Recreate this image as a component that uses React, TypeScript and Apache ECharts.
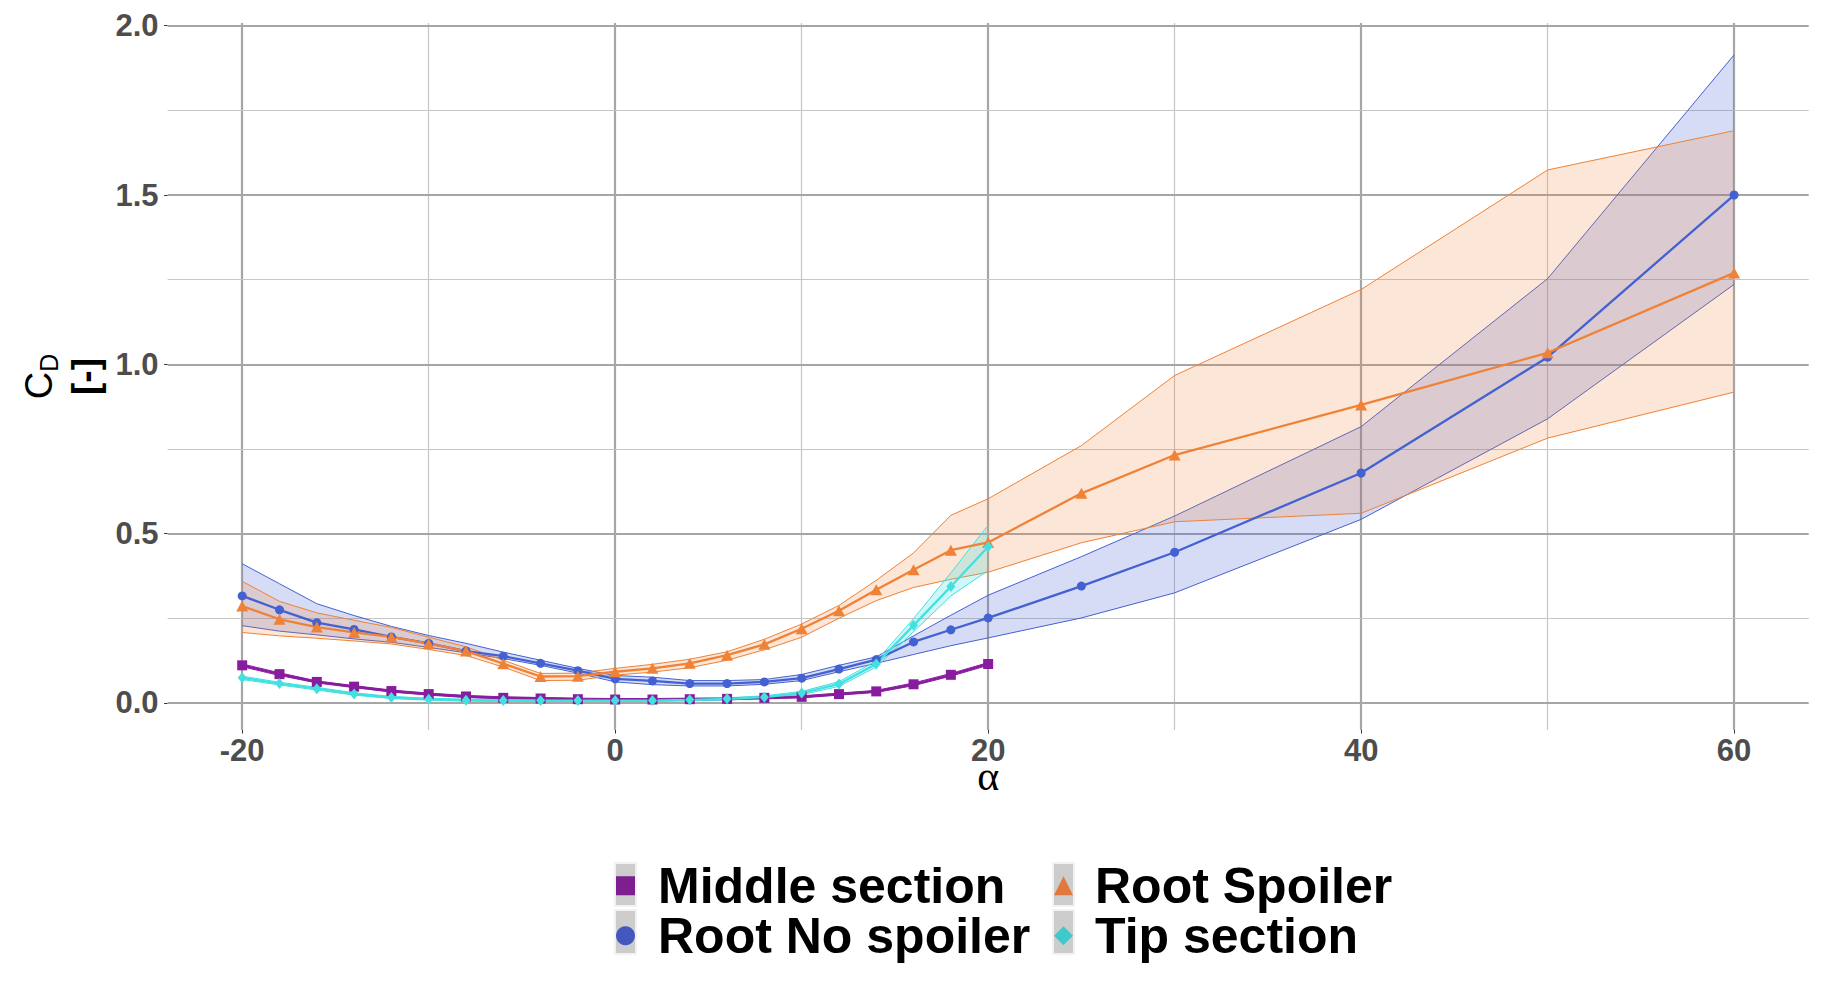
import React, { useEffect, useRef } from "react";
import * as echarts from "echarts";

// ---------- data ----------
const alphaShort = [-20, -18, -16, -14, -12, -10, -8, -6, -4, -2, 0, 2, 4, 6, 8, 10, 12, 14, 16, 18, 20];
const alphaLong = [-20, -18, -16, -14, -12, -10, -8, -6, -4, -2, 0, 2, 4, 6, 8, 10, 12, 14, 16, 18, 20, 25, 30, 40, 50, 60];

const middleMean = [0.111, 0.085, 0.062, 0.048, 0.035, 0.026, 0.019, 0.015, 0.013, 0.011, 0.010, 0.010, 0.011, 0.012, 0.015, 0.018, 0.026, 0.034, 0.055, 0.083, 0.115];
const middleLo = [0.107, 0.081, 0.059, 0.045, 0.032, 0.023, 0.016, 0.012, 0.010, 0.008, 0.007, 0.007, 0.008, 0.009, 0.012, 0.015, 0.023, 0.031, 0.051, 0.079, 0.111];
const middleHi = [0.115, 0.089, 0.065, 0.051, 0.038, 0.029, 0.022, 0.018, 0.016, 0.014, 0.013, 0.013, 0.014, 0.015, 0.018, 0.021, 0.029, 0.037, 0.059, 0.087, 0.119];

const tipMean = [0.074, 0.057, 0.042, 0.026, 0.016, 0.011, 0.008, 0.007, 0.007, 0.007, 0.007, 0.007, 0.009, 0.012, 0.017, 0.029, 0.056, 0.115, 0.229, 0.344, 0.461];
const tipLo = [0.069, 0.053, 0.038, 0.023, 0.013, 0.008, 0.005, 0.004, 0.004, 0.004, 0.004, 0.004, 0.006, 0.009, 0.013, 0.024, 0.049, 0.106, 0.210, 0.316, 0.391];
const tipHi = [0.079, 0.061, 0.046, 0.030, 0.019, 0.014, 0.011, 0.010, 0.010, 0.010, 0.010, 0.010, 0.012, 0.015, 0.021, 0.034, 0.063, 0.124, 0.249, 0.384, 0.525];

const noSpoilerMean = [0.316, 0.275, 0.237, 0.217, 0.195, 0.176, 0.153, 0.138, 0.117, 0.095, 0.071, 0.065, 0.057, 0.057, 0.062, 0.073, 0.100, 0.128, 0.180, 0.216, 0.251, 0.345, 0.445, 0.679, 1.021, 1.500];
const noSpoilerHi = [0.411, 0.352, 0.293, 0.258, 0.226, 0.199, 0.176, 0.150, 0.126, 0.102, 0.081, 0.076, 0.066, 0.066, 0.069, 0.084, 0.111, 0.136, 0.198, 0.259, 0.318, 0.432, 0.552, 0.816, 1.253, 1.914];
const noSpoilerLo = [0.228, 0.212, 0.201, 0.189, 0.179, 0.164, 0.148, 0.131, 0.111, 0.088, 0.062, 0.054, 0.050, 0.050, 0.055, 0.066, 0.092, 0.117, 0.143, 0.169, 0.192, 0.251, 0.325, 0.542, 0.839, 1.236];

const spoilerMean = [0.286, 0.247, 0.224, 0.208, 0.195, 0.175, 0.153, 0.116, 0.078, 0.079, 0.092, 0.102, 0.117, 0.141, 0.173, 0.219, 0.272, 0.334, 0.393, 0.451, 0.474, 0.619, 0.732, 0.880, 1.034, 1.270];
const spoilerHi = [0.359, 0.300, 0.266, 0.244, 0.223, 0.194, 0.166, 0.126, 0.087, 0.088, 0.102, 0.114, 0.129, 0.151, 0.188, 0.233, 0.288, 0.362, 0.443, 0.554, 0.603, 0.760, 0.967, 1.221, 1.574, 1.690];
const spoilerLo = [0.208, 0.198, 0.191, 0.183, 0.174, 0.158, 0.140, 0.106, 0.066, 0.067, 0.082, 0.091, 0.104, 0.126, 0.157, 0.194, 0.250, 0.302, 0.341, 0.365, 0.386, 0.473, 0.535, 0.560, 0.782, 0.918];

const xTicks = [-20, 0, 20, 40, 60];
const xMinor = [-10, 10, 30, 50];
const yTicks = [0, 0.5, 1.0, 1.5, 2.0];
const yMinor = [0.25, 0.75, 1.25, 1.75];

// ---------- styles ----------
const C_MID = "#881C9E";
const C_NOSP = "#4461D1";
const C_SP = "#EF8236";
const C_TIP = "#44E0E0";
const MAJOR = "#A6A6A6";
const MINOR = "#C6C6C6";
const SANS = "Liberation Sans, Arial, sans-serif";

function ribbon(name: string, xs: number[], lo: number[], hi: number[], color: string, fill: string) {
  return {
    type: "custom",
    name,
    silent: true,
    z: 2,
    data: [[xs[0], lo[0]]],
    renderItem: (params: any, api: any) => {
      const up = xs.map((x, i) => api.coord([x, hi[i]]));
      const dn = xs.map((x, i) => api.coord([x, lo[i]]));
      return {
        type: "group",
        children: [
          { type: "polygon", shape: { points: up.concat(dn.slice().reverse()) }, style: { fill, stroke: null } },
          { type: "polyline", shape: { points: up }, style: { stroke: color, lineWidth: 1, fill: null } },
          { type: "polyline", shape: { points: dn }, style: { stroke: color, lineWidth: 1, fill: null } },
        ],
      };
    },
  };
}

function meanLine(name: string, xs: number[], ys: number[], color: string, symbol: string, size: any) {
  return {
    type: "line",
    name,
    z: 2,
    data: xs.map((x, i) => [x, ys[i]]),
    symbol,
    symbolSize: size,
    showSymbol: true,
    lineStyle: { color, width: 2.3 },
    itemStyle: { color },
    emphasis: { disabled: true },
  };
}

const gridLines = [
  ...xTicks.map((v) => ({ xAxis: v, lineStyle: { color: MAJOR, width: 2.2, type: "solid" } })),
  ...xMinor.map((v) => ({ xAxis: v, lineStyle: { color: MINOR, width: 1.2, type: "solid" } })),
  ...yTicks.map((v) => ({ yAxis: v, lineStyle: { color: MAJOR, width: 2.2, type: "solid" } })),
  ...yMinor.map((v) => ({ yAxis: v, lineStyle: { color: MINOR, width: 1.2, type: "solid" } })),
];

const legendText = {
  color: "#000",
  fontFamily: SANS,
  fontWeight: "bold",
  fontSize: 50,
  lineHeight: 47.5,
};

const keyBoxes: any[] = [];
[614, 1052].forEach((x) => {
  keyBoxes.push({ type: "rect", silent: true, z: 0, shape: { x, y: 862, width: 23, height: 45 }, style: { fill: "#F2F2F2" } });
  keyBoxes.push({ type: "rect", silent: true, z: 0, shape: { x, y: 909, width: 23, height: 46 }, style: { fill: "#F2F2F2" } });
  keyBoxes.push({ type: "rect", silent: true, z: 1, shape: { x: x + 2, y: 864, width: 19, height: 41 }, style: { fill: "#CCCCCC" } });
  keyBoxes.push({ type: "rect", silent: true, z: 1, shape: { x: x + 2, y: 911, width: 19, height: 42 }, style: { fill: "#CCCCCC" } });
});

const option: any = {
  animation: false,
  backgroundColor: "#ffffff",
  grid: { left: 167.6, right: 16.3, top: 23, bottom: 253, containLabel: false, outerBoundsMode: "none" },
  xAxis: {
    type: "value",
    min: -24,
    max: 64,
    axisLine: { show: false, onZero: false },
    splitLine: { show: false },
    axisTick: { show: true, customValues: xTicks, length: 3.5, lineStyle: { color: "#333333", width: 1 } },
    axisLabel: {
      customValues: xTicks,
      margin: 5,
      fontSize: 31,
      fontWeight: "bold",
      fontFamily: SANS,
      color: "#4D4D4D",
      formatter: (v: number) => String(v),
    },
    name: "α",
    nameLocation: "middle",
    nameGap: 38,
    nameMoveOverlap: false,
    nameTextStyle: { fontFamily: "Liberation Serif, Times New Roman, serif", fontSize: 42, lineHeight: 16, color: "#000" },
  },
  yAxis: {
    type: "value",
    min: -0.08,
    max: 2.008,
    axisLine: { show: false, onZero: false },
    splitLine: { show: false },
    axisTick: { show: true, customValues: yTicks, length: 3.5, lineStyle: { color: "#333333", width: 1 } },
    axisLabel: {
      customValues: yTicks,
      margin: 9,
      fontSize: 31,
      fontWeight: "bold",
      fontFamily: SANS,
      color: "#4D4D4D",
      formatter: (v: number) => v.toFixed(1),
    },
    name: "{c|C}{d|D}\n{b|[-]}",
    nameLocation: "middle",
    nameRotate: 90,
    nameGap: 59,
    nameTextStyle: {
      color: "#000",
      rich: {
        c: { fontFamily: SANS, fontSize: 38, lineHeight: 45, color: "#000" },
        d: { fontFamily: SANS, fontSize: 25, lineHeight: 24, verticalAlign: "bottom", color: "#000" },
        b: { fontFamily: SANS, fontSize: 37, fontWeight: "bold", lineHeight: 47, color: "#000" },
      },
    },
  },
  legend: [
    {
      orient: "vertical",
      left: 616,
      top: 860.75,
      padding: 0,
      itemGap: 0,
      itemWidth: 19,
      itemHeight: 19,
      z: 10,
      selectedMode: false,
      itemStyle: { borderWidth: 0 },
      textStyle: { ...legendText, padding: [0, 0, 0, 18] },
      data: [
        { name: "Middle section", icon: "rect", itemStyle: { color: "#7D1F8E" } },
        { name: "Root No spoiler", icon: "circle", itemStyle: { color: "#4357BE" } },
      ],
    },
    {
      orient: "vertical",
      left: 1054,
      top: 860.75,
      padding: 0,
      itemGap: 0,
      itemWidth: 19,
      itemHeight: 19,
      z: 10,
      selectedMode: false,
      itemStyle: { borderWidth: 0 },
      textStyle: { ...legendText, padding: [0, 0, 0, 17] },
      data: [
        { name: "Root Spoiler", icon: "triangle", itemStyle: { color: "#E07A3C" } },
        { name: "Tip section", icon: "diamond", itemStyle: { color: "#3ECACA" } },
      ],
    },
  ],
  graphic: keyBoxes,
  series: [
    {
      type: "line",
      name: "grid",
      data: [],
      silent: true,
      markLine: {
        silent: true,
        z: 1,
        symbol: ["none", "none"],
        label: { show: false },
        emphasis: { disabled: true },
        data: gridLines,
      },
    },
    ribbon("Middle section band", alphaShort, middleLo, middleHi, C_MID, "rgba(136,28,158,0.2)"),
    meanLine("Middle section", alphaShort, middleMean, C_MID, "rect", 10),
    ribbon("Root No spoiler band", alphaLong, noSpoilerLo, noSpoilerHi, C_NOSP, "rgba(68,97,209,0.22)"),
    meanLine("Root No spoiler", alphaLong, noSpoilerMean, C_NOSP, "circle", 9),
    ribbon("Root Spoiler band", alphaLong, spoilerLo, spoilerHi, C_SP, "rgba(239,130,54,0.2)"),
    meanLine("Root Spoiler", alphaLong, spoilerMean, C_SP, "triangle", [12, 11]),
    ribbon("Tip section band", alphaShort, tipLo, tipHi, C_TIP, "rgba(68,224,224,0.25)"),
    meanLine("Tip section", alphaShort, tipMean, C_TIP, "diamond", [9, 11]),
  ],
};

export default function App() {
  const ref = useRef<HTMLDivElement>(null);
  useEffect(() => {
    if (!ref.current) return;
    const chart = echarts.init(ref.current, null, { renderer: "svg" });
    chart.setOption(option);
    return () => chart.dispose();
  }, []);
  return (
    <div
      ref={ref}
      style={{ position: "fixed", left: 0, top: 0, width: 1825, height: 983, background: "#ffffff" }}
    />
  );
}
